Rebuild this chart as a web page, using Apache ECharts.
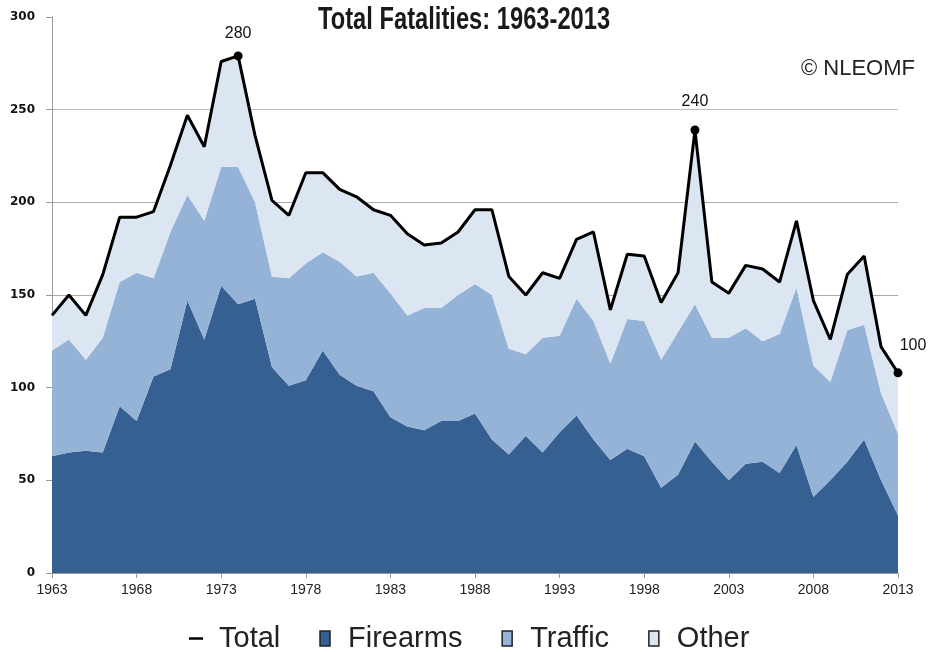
<!DOCTYPE html>
<html>
<head>
<meta charset="utf-8">
<script src="https://cdn.jsdelivr.net/npm/echarts@6/dist/echarts.min.js"></script>
<style>html,body{margin:0;padding:0;background:#fff;}#c{width:932px;height:652px;}</style>
</head>
<body>
<div id="c"></div>
<script>
var years = [];
for (var y = 1963; y <= 2013; y++) years.push(String(y));

var firearms = [63,65,66,65,90,82,106,110,147,126,155,145,148,111,101,104,120,107,101,98,84,79,77,82,82,86,72,64,74,65,76,85,72,61,67,63,46,53,71,60,50,59,60,54,69,41,50,60,72,50,31];
var traffic  = [57,61,49,62,67,80,53,74,57,64,64,74,52,49,58,63,53,61,59,64,67,60,66,61,68,70,78,57,44,62,52,63,64,52,70,73,69,77,74,67,77,73,65,75,85,71,53,71,62,47,44];
var other    = [19,24,24,34,35,30,36,36,43,40,57,60,36,41,34,49,43,39,43,34,42,44,34,35,34,40,46,39,32,35,31,32,48,29,35,35,31,32,94,30,24,34,39,28,36,35,23,30,37,25,33];
var total    = [139,150,139,161,192,192,195,220,247,230,276,279,236,201,193,216,216,207,203,196,193,183,177,178,184,196,196,160,150,162,159,180,184,142,172,171,146,162,239,157,151,166,164,157,190,147,126,161,171,122,108];

var yTicks = [0,50,100,150,200,250,300];
var markYears = ['1974','2001','2013'];
var markTexts = ['280','240','100'];
var markOffsets = [[0,2],[0,-4],[15,-3]];

var totalData = total.map(function (v, i) {
  var k = markYears.indexOf(years[i]);
  if (k < 0) return { value: v };
  return {
    value: v,
    symbol: 'circle',
    symbolSize: 9,
    label: {
      show: true,
      position: 'top',
      distance: 12,
      offset: markOffsets[k],
      formatter: markTexts[k],
      fontFamily: 'Liberation Sans',
      fontSize: 16,
      color: '#111'
    }
  };
});

var chart = echarts.init(document.getElementById('c'), null, { renderer: 'canvas' });
var sq = 'path://M0 0H10V15H0Z';
chart.setOption({
  animation: false,
  backgroundColor: '#fff',
  graphic: [
    {
      type: 'text', x: 318, y: 5, scaleX: 0.765, scaleY: 1,
      style: { text: 'Total Fatalities: 1963-2013', fontFamily: 'Liberation Sans', fontWeight: 'bold', fontSize: 31, fill: '#1a1a1a', textAlign: 'left', textVerticalAlign: 'top' }
    },
    {
      type: 'text', right: 17, top: 58,
      style: { text: '© NLEOMF', fontFamily: 'Liberation Sans', fontSize: 22, fill: '#222' }
    }
  ],
  legend: {
    left: 184,
    top: 619,
    itemGap: 39,
    itemWidth: 14,
    itemHeight: 15,
    textStyle: { fontFamily: 'Liberation Sans', fontSize: 29, color: '#222', padding: [0, 0, 0, 11] },
    data: [
      { name: 'Total', icon: 'path://M0 0H14V2.5H0Z' },
      { name: 'Firearms', icon: sq, itemStyle: { borderColor: '#222', borderWidth: 1.5 } },
      { name: 'Traffic', icon: sq, itemStyle: { borderColor: '#222', borderWidth: 1.5 } },
      { name: 'Other', icon: sq, itemStyle: { borderColor: '#222', borderWidth: 1.5 } }
    ]
  },
  grid: { left: 52, right: 34, top: 17, bottom: 79 },
  xAxis: {
    type: 'category',
    data: years,
    boundaryGap: false,
    axisLine: { lineStyle: { color: '#999', width: 1 } },
    axisTick: { interval: 4, length: 5, lineStyle: { color: '#999' } },
    axisLabel: { interval: 4, margin: 10, fontFamily: 'Liberation Sans', fontSize: 14, color: '#222' },
    splitLine: { show: false }
  },
  yAxis: {
    type: 'value',
    min: yTicks[0],
    max: yTicks[yTicks.length - 1],
    interval: 50,
    axisLine: { show: true, lineStyle: { color: '#999', width: 1 } },
    axisTick: { show: true, length: 6, lineStyle: { color: '#999' } },
    axisLabel: { margin: 17, fontFamily: 'DejaVu Sans', fontWeight: 'bold', fontSize: 12, color: '#111' },
    splitLine: { show: true, lineStyle: { color: ['#aaa','#aaa','#aaa','#aaa','#aaa','#bbb','rgba(0,0,0,0)'], width: 1 } }
  },
  series: [
    {
      name: 'Firearms', type: 'line', stack: 'all', data: firearms,
      symbol: 'none', lineStyle: { width: 0 },
      itemStyle: { color: '#366092' },
      areaStyle: { color: '#366092', opacity: 1 }
    },
    {
      name: 'Traffic', type: 'line', stack: 'all', data: traffic,
      symbol: 'none', lineStyle: { width: 0 },
      itemStyle: { color: '#95b3d7' },
      areaStyle: { color: '#95b3d7', opacity: 1 }
    },
    {
      name: 'Other', type: 'line', stack: 'all', data: other,
      symbol: 'none', lineStyle: { width: 0 },
      itemStyle: { color: '#dce6f2' },
      areaStyle: { color: '#dce6f2', opacity: 1 }
    },
    {
      name: 'Total', type: 'line', data: totalData,
      symbol: 'none', showAllSymbol: true,
      lineStyle: { color: '#000', width: 3 },
      itemStyle: { color: '#000' },
      z: 5
    }
  ]
});
</script>
</body>
</html>
